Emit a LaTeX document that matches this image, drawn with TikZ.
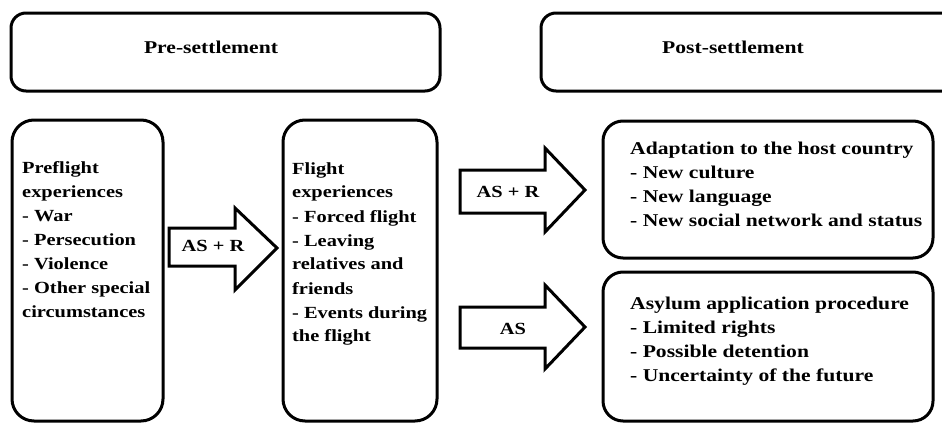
\documentclass[tikz,border=0pt]{standalone}
\usepackage{fontspec}
\setmainfont[FakeStretch=1.2]{Liberation Serif}
\begin{document}
\begin{tikzpicture}[x=1pt,y=-1pt,
  frame/.style={draw,line width=3pt,rounded corners=#1,inner sep=0pt,outer sep=0pt},
  frame/.default=15pt,
  txt/.style={inner sep=0pt,align=left,anchor=north west,font=\bfseries\fontsize{18}{24}\selectfont},
  txtl/.style={txt,font=\bfseries\fontsize{17}{24}\selectfont},
  head/.style={inner sep=0pt,font=\bfseries\fontsize{18}{24}\selectfont},
  blockarrow/.style={draw,line width=3pt,line join=miter,fill=white},
  lab/.style={inner sep=0pt,font=\bfseries\fontsize{17}{20}\selectfont}]
\useasboundingbox (0,0) rectangle (942,423);
\clip (0,0) rectangle (942,423);
% header boxes
\node[frame,minimum width=429pt,minimum height=78pt] (pre) at (225.5,52) {};
\node[head] (pret) at (211,47) {Pre-settlement};
\node[frame,minimum width=429pt,minimum height=78pt] (post) at (755.5,52) {};
\node[head] (postt) at (733,47) {Post-settlement};
% tall boxes
\node[frame=22pt,minimum width=151pt,minimum height=301pt] (preflight) at (87.5,270.5) {};
\node[frame=22pt,minimum width=154pt,minimum height=301pt] (flight) at (360,270.5) {};
\node[frame=20pt,minimum width=330pt,minimum height=137pt] (adapt) at (768,189.5) {};
\node[frame=20pt,minimum width=330pt,minimum height=149pt] (asylum) at (768,346.5) {};
% texts
\node[txtl] (preflightt) at (22,161) {Preflight\\experiences\\- War\\- Persecution\\- Violence\\- Other special\\circumstances};
\node[txtl] (flightt) at (292,162) {Flight\\experiences\\- Forced flight\\- Leaving\\relatives and\\friends\\- Events during\\the flight};
\node[txt] (adaptt) at (630,142) {Adaptation to the host country\\- New culture\\- New language\\- New social network and status};
\node[txt] (asylumt) at (630,297) {Asylum application procedure\\- Limited rights\\- Possible detention\\- Uncertainty of the future};
% block arrows
\draw[blockarrow] (169,228) -- (235,228) -- (235,208) -- (277,248) -- (235,290) -- (235,266) -- (169,266) -- cycle;
\node[lab] (a1) at (213,246) {AS + R};
\draw[blockarrow] (460,170) -- (545,170) -- (545,148) -- (585,190) -- (545,232) -- (545,213) -- (460,213) -- cycle;
\node[lab] (a2) at (508,192) {AS + R};
\draw[blockarrow] (460,307) -- (545,307) -- (545,285) -- (585,327) -- (545,369) -- (545,348) -- (460,348) -- cycle;
\node[lab] (a3) at (513,329) {AS};
\end{tikzpicture}
\end{document}
